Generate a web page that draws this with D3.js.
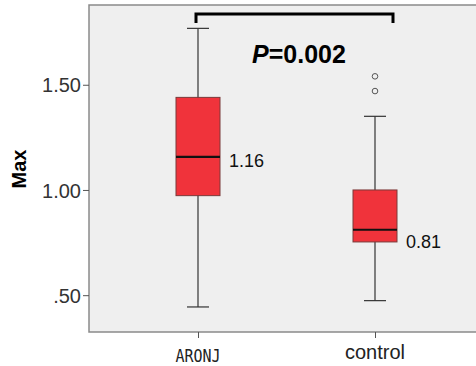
<!DOCTYPE html>
<html>
<head>
<meta charset="utf-8">
<script src="https://cdn.jsdelivr.net/npm/d3@7"></script>
<style>
  body { margin: 0; background: #fff; }
  svg { display: block; font-family: "Liberation Sans", Arial, sans-serif; }
</style>
</head>
<body>
<div id="chart"></div>
<script>
// Chart size
var svgWidth = 476;
var svgHeight = 366;

// plot frame (right edge runs off the picture)
var frame = { left: 89, top: 5, right: 482, bottom: 332 };

// data
var groups = ["ARONJ", "control"];
var whiskerLow = [0.444, 0.474];
var q1 = [0.973, 0.753];
var median = [1.157, 0.811];
var q3 = [1.440, 1.000];
var whiskerHigh = [1.768, 1.350];
var outliers = [[], [1.470, 1.540]];
var medianLabels = ["1.16", "0.81"];
var yTicks = [0.5, 1.0, 1.5];
var yTickLabels = [".50", "1.00", "1.50"];

var svg = d3.select("#chart")
  .append("svg")
  .attr("width", svgWidth)
  .attr("height", svgHeight);

var yScale = d3.scaleLinear()
  .domain([0.325, 1.879])
  .range([frame.bottom, frame.top]);

var xScale = d3.scalePoint()
  .domain(groups)
  .range([198, 375]);

// background panel
svg.append("rect")
  .attr("x", frame.left)
  .attr("y", frame.top)
  .attr("width", frame.right - frame.left)
  .attr("height", frame.bottom - frame.top)
  .attr("fill", "#efefef")
  .attr("stroke", "#8a8a8a")
  .attr("stroke-width", 1.5);

// y axis
var leftAxis = d3.axisLeft(yScale)
  .tickValues(yTicks)
  .tickSize(6)
  .tickFormat(function(d, i) { return yTickLabels[i]; });

var yAxis = svg.append("g")
  .attr("transform", `translate(${frame.left}, 0)`)
  .call(leftAxis);
yAxis.select(".domain").remove();
yAxis.selectAll("line").attr("stroke", "#555");
yAxis.selectAll("text")
  .attr("x", -8)
  .attr("dy", "0.36em")
  .attr("fill", "#333")
  .style("font-size", "20px")
  .style("font-family", "'Liberation Sans', Arial, sans-serif");

// x axis
var bottomAxis = d3.axisBottom(xScale).tickSize(6);
var xAxis = svg.append("g")
  .attr("transform", `translate(0, ${frame.bottom})`)
  .call(bottomAxis);
xAxis.select(".domain").remove();
xAxis.selectAll("line").attr("stroke", "#555");
xAxis.selectAll("text").remove();

// ARONJ label is a narrow, tall monospace in the original
var ax = xScale("ARONJ");
svg.append("text")
  .attr("x", 0)
  .attr("y", 0)
  .attr("text-anchor", "middle")
  .attr("fill", "#222")
  .style("font-family", "'DejaVu Sans Mono', monospace")
  .style("font-size", "15px")
  .attr("transform", `translate(${ax}, 362) scale(1, 1.2)`)
  .text("ARONJ");

svg.append("text")
  .attr("x", xScale("control"))
  .attr("y", 359)
  .attr("text-anchor", "middle")
  .attr("fill", "#222")
  .style("font-size", "20px")
  .text("control");

// y label
svg.append("text")
  .attr("transform", "rotate(-90)")
  .attr("x", -169)
  .attr("y", 26)
  .attr("text-anchor", "middle")
  .style("font-size", "20px")
  .style("font-weight", "bold")
  .text("Max");

var boxWidth = 44;
var capWidth = 22;

var boxes = svg.selectAll("g.box")
  .data(groups)
  .enter()
  .append("g")
  .attr("class", "box");

// whiskers
boxes.append("line")
  .attr("x1", d => xScale(d))
  .attr("x2", d => xScale(d))
  .attr("y1", (d, i) => yScale(whiskerHigh[i]))
  .attr("y2", (d, i) => yScale(whiskerLow[i]))
  .attr("stroke", "#333")
  .attr("stroke-width", 1.2);

boxes.append("line")
  .attr("x1", d => xScale(d) - capWidth / 2)
  .attr("x2", d => xScale(d) + capWidth / 2)
  .attr("y1", (d, i) => yScale(whiskerHigh[i]))
  .attr("y2", (d, i) => yScale(whiskerHigh[i]))
  .attr("stroke", "#333")
  .attr("stroke-width", 1.2);

boxes.append("line")
  .attr("x1", d => xScale(d) - capWidth / 2)
  .attr("x2", d => xScale(d) + capWidth / 2)
  .attr("y1", (d, i) => yScale(whiskerLow[i]))
  .attr("y2", (d, i) => yScale(whiskerLow[i]))
  .attr("stroke", "#333")
  .attr("stroke-width", 1.2);

// boxes
boxes.append("rect")
  .attr("x", d => xScale(d) - boxWidth / 2)
  .attr("y", (d, i) => yScale(q3[i]))
  .attr("width", boxWidth)
  .attr("height", (d, i) => yScale(q1[i]) - yScale(q3[i]))
  .attr("fill", "#f0333b")
  .attr("stroke", "#7a3a3a")
  .attr("stroke-width", 1);

// medians
boxes.append("line")
  .attr("x1", d => xScale(d) - boxWidth / 2)
  .attr("x2", d => xScale(d) + boxWidth / 2)
  .attr("y1", (d, i) => yScale(median[i]))
  .attr("y2", (d, i) => yScale(median[i]))
  .attr("stroke", "#111")
  .attr("stroke-width", 2.2);

// median labels
boxes.append("text")
  .attr("x", d => xScale(d) + boxWidth / 2 + 9)
  .attr("y", (d, i) => yScale(median[i]) + (i === 0 ? 10 : 18))
  .attr("fill", "#111")
  .style("font-size", "18px")
  .text((d, i) => medianLabels[i]);

// outliers
groups.forEach(function(g, i) {
  svg.selectAll(null)
    .data(outliers[i])
    .enter()
    .append("circle")
    .attr("cx", xScale(g))
    .attr("cy", d => yScale(d))
    .attr("r", 2.8)
    .attr("fill", "none")
    .attr("stroke", "#555")
    .attr("stroke-width", 1);
});

// significance bracket
var bx1 = xScale("ARONJ") - 2;
var bx2 = xScale("control") + 18;
svg.append("path")
  .attr("d", `M${bx1},23 V14 H${bx2} V23`)
  .attr("fill", "none")
  .attr("stroke", "#000")
  .attr("stroke-width", 3);

var pText = svg.append("text")
  .attr("x", 252)
  .attr("y", 63)
  .style("font-size", "25px")
  .style("font-weight", "bold");
pText.append("tspan").style("font-style", "italic").text("P");
pText.append("tspan").text("=0.002");
</script>
</body>
</html>
